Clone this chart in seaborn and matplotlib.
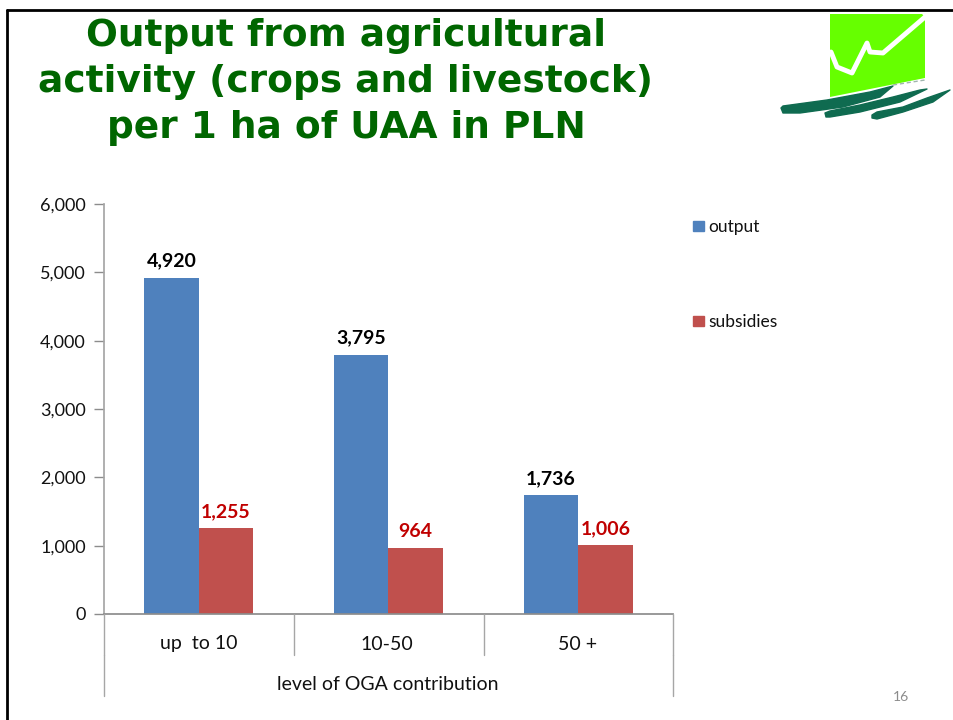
import pandas as pd
import matplotlib
matplotlib.use('Agg')
import matplotlib.pyplot as plt
from matplotlib.patches import Polygon
from matplotlib.lines import Line2D
import seaborn as sns

categories = ['up  to 10', '10-50', '50 +']
output_values = [4920, 3795, 1736]
subsidies_values = [1255, 964, 1006]
series_names = ['output', 'subsidies']
bar_colors = ['#4F81BD', '#C0504D']
label_colors = ['black', '#C00000']
y_ticks = [0, 1000, 2000, 3000, 4000, 5000, 6000]
title_lines = ['Output from agricultural', 'activity (crops and livestock)', 'per 1 ha of UAA in PLN']
group_label = 'level of OGA contribution'

W, H = 954, 720


def fx(px):
    return px / W


def fy(py):
    return 1 - py / H


df = pd.DataFrame({
    'category': categories * 2,
    'series': [series_names[0]] * 3 + [series_names[1]] * 3,
    'value': output_values + subsidies_values,
})

sns.set_theme(style='white')
plt.rcParams['font.family'] = ['Lato', 'DejaVu Sans']

fig = plt.figure(figsize=(W / 100, H / 100), dpi=100, facecolor='white')
ax = fig.add_axes([fx(103.7), fy(614), fx(673) - fx(103.7), (614 - 204) / H])

sns.barplot(data=df, x='category', y='value', hue='series', palette=bar_colors,
            width=0.574, saturation=1, legend=False, linewidth=0, ax=ax)

ax.set_ylim(0, 6000)
ax.set_xlim(-0.5, 2.5)
ax.set_xlabel('')
ax.set_ylabel('')
ax.set_yticks(y_ticks)
ax.set_yticklabels([f'{v:,}' for v in y_ticks], fontsize=13, color='#111111')
ax.tick_params(axis='y', left=True, length=7, width=1, color='#8c8c8c', pad=6)
ax.set_xticks([])
for side in ['top', 'right']:
    ax.spines[side].set_visible(False)
ax.spines['left'].set_color('#a6a6a6')
ax.spines['bottom'].set_color('#8c8c8c')

# value labels
for container, color in zip(ax.containers, label_colors):
    ax.bar_label(container, labels=[f'{v:,.0f}' for v in container.datavalues],
                 padding=6, fontsize=14, fontweight='bold', color=color)

# multi level category axis below the plot
for px in [104, 294, 484, 673]:
    fig.add_artist(Line2D([fx(px)] * 2, [fy(614), fy(655)], color='#a6a6a6', lw=1))
for px in [104, 673]:
    fig.add_artist(Line2D([fx(px)] * 2, [fy(655), fy(696)], color='#a6a6a6', lw=1))
for px, name in zip([199, 387, 578], categories):
    fig.text(fx(px), fy(644), name, ha='center', va='center', fontsize=14, color='#111111')
fig.text(fx(388), fy(684), group_label, ha='center', va='center', fontsize=14, color='#111111')

# legend
for py, color, name in zip([226, 321], bar_colors, series_names):
    fig.patches.append(plt.Rectangle((fx(693), fy(py + 5)), 11 / W, 10 / H, color=color,
                                     transform=fig.transFigure, figure=fig))
    fig.text(fx(708), fy(py + 1), name, ha='left', va='center', fontsize=12.5, color='#111111')

# title
for py, line in zip([36, 82, 128], title_lines):
    fig.text(fx(346), fy(py), line, ha='center', va='center', fontsize=27,
             fontweight='bold', color='#006600', family='DejaVu Sans')

fig.text(fx(901), fy(697), '16', ha='center', va='center', fontsize=10, color='#8c8c8c')

# slide frame
fig.add_artist(Line2D([fx(7), fx(7)], [0, fy(10)], color='black', lw=2))
fig.add_artist(Line2D([fx(7), 1], [fy(10), fy(10)], color='black', lw=2))

# logo
logo = fig.add_axes([0, 0, 1, 1], facecolor='none')
logo.set_xlim(0, W)
logo.set_ylim(H, 0)
logo.axis('off')
logo.add_patch(Polygon([(830, 14), (922, 14), (925, 17), (925, 78), (830, 97)], color='#66FF00', lw=0))
logo.plot([831, 837, 852, 867, 870, 883, 925], [52, 67, 73, 43, 52, 53, 17],
          color='white', lw=3.5, solid_joinstyle='round')
stroke_color = '#0F6B50'
logo.add_patch(Polygon([(781, 108), (783, 106), (827, 100), (870, 92), (893, 86), (880, 97),
                        (843, 107), (800, 113), (783, 113)],
                       facecolor=stroke_color, edgecolor=stroke_color, lw=1, joinstyle='round'))
logo.add_patch(Polygon([(825, 113), (830, 111), (860, 105), (893, 97), (920, 90), (927, 89),
                        (900, 102), (860, 112), (830, 117), (826, 117)],
                       facecolor=stroke_color, edgecolor=stroke_color, lw=1, joinstyle='round'))
logo.add_patch(Polygon([(872, 115), (877, 112), (903, 107), (927, 98), (950, 90), (933, 102),
                        (903, 112), (877, 119), (872, 118)],
                       facecolor=stroke_color, edgecolor=stroke_color, lw=1, joinstyle='round'))
logo.plot([893, 925], [85, 80], color='#9fb5ad', lw=1, ls=(0, (3, 2)))

fig.savefig('out.png', dpi=100)
